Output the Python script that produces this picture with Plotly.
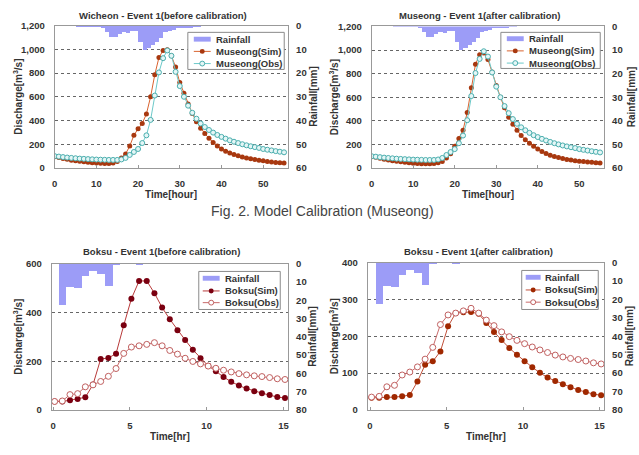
import plotly.graph_objects as go

W, H = 639, 455

# ---------------- DATA ----------------
hours_top = list(range(56))
museong_obs = [100, 96, 92, 88, 85, 82, 79, 77, 75, 73, 71, 70, 69, 68, 68, 68, 72, 85, 110, 135,
               160, 210, 275, 405, 610, 805, 925, 990, 945, 810, 690, 600, 525, 465, 415, 375,
               345, 320, 298, 278, 262, 247, 233, 221, 210, 200, 191, 183, 176, 169, 160, 154,
               148, 142, 137, 132]
sim_before = [95, 88, 80, 73, 66, 60, 56, 52, 48, 45, 42, 40, 38, 37, 42, 55, 85, 118, 185, 275,
              330, 375, 455, 600, 785, 930, 990, 995, 945, 850, 720, 630, 540, 460, 390, 335,
              290, 250, 215, 185, 160, 142, 127, 114, 103, 93, 85, 78, 71, 65, 60, 55,
              51, 47, 44, 41]
sim_after = [95, 90, 82, 75, 68, 62, 57, 52, 48, 45, 40, 38, 36, 35, 35, 37, 44, 55, 85, 120,
             185, 250, 320, 470, 680, 880, 960, 975, 920, 815, 700, 600, 510, 430, 370, 320,
             275, 240, 210, 185, 160, 140, 122, 108, 97, 88, 80, 73, 67, 62, 58, 54,
             51, 48, 45, 42]
rain_hour_start = list(range(35))
rain_top = [0, 0, 0, 0, 0, 0.3, 0.3, 0.2, 0.3, 0.2, 0.2, 0.5, 2.5, 4.8, 4.8, 3.5, 2.7, 3.0, 2.3, 2.3,
            6.8, 10.0, 9.2, 8.0, 6.6, 5.2, 2.7, 2.0, 1.5, 1.0, 1.0, 0.8, 0.5, 0.3, 0.2]

hours_bot = [0.1, 0.6, 1.1, 1.6, 2.1, 2.6, 3.1, 3.6, 4.1, 4.6, 5.1, 5.6, 6.1, 6.6, 7.1, 7.6,
             8.1, 8.6, 9.1, 9.6, 10.1, 10.6, 11.1, 11.6, 12.1, 12.6, 13.1, 13.6, 14.1, 14.6, 15.1]
boksu_obs = [35, 37, 63, 67, 95, 103, 117, 138, 170, 232, 258, 263, 269, 276, 263, 244, 229, 212,
             199, 189, 180, 171, 163, 156, 149, 144, 140, 137, 133, 128, 125]
boksu_sim_before = [35, 35, 40, 45, 52, 104, 209, 213, 231, 347, 456, 529, 529, 479, 420, 372, 327,
                    287, 247, 212, 181, 159, 135, 116, 100, 88, 77, 69, 61, 53, 49]
boksu_sim_after = [33, 33, 35, 35, 37, 41, 77, 123, 132, 159, 227, 263, 265, 266, 261, 236, 212,
                   190, 168, 150, 132, 116, 101, 88, 79, 70, 62, 54, 49, 43, 40]
rain_bot_start = [0.35, 0.85, 1.35, 1.85, 2.35, 2.85, 3.35, 3.85, 4.35, 4.85, 5.35]
rain_bot = [22.5, 12.3, 13.0, 6.3, 3.8, 5.5, 12.0, 0.5, 0.0, 0.0, 0.2]

titles = ["Wicheon - Event 1(before calibration)", "Museong - Event 1(after calibration)",
          "Boksu - Event 1(before calibration)", "Boksu - Event 1(after calibration)"]
caption = "Fig. 2. Model Calibration (Museong)"

# ---------------- STYLE / LAYOUT ----------------
FONT = "Liberation Sans"
RAIN_C = "#9c9cf7"
GRID_C = "#666666"
FRAME_C = "#999999"
TXT_C = "#333333"


def px(x):
    return x / W


def py(y):
    return 1 - y / H


# panel boxes in pixels
panels = [
    dict(l=52, r=287, t=20, b=166, xr=[0, 56], q=[0, 1200], qd=200, rr=60, xd=10, xt="Time[hour]",
         ty=10, dx=15, rx=313,
         leg=dict(l=186, r=283, t=27, b=65, s0=192, s1=209, tx=212, rows=[34, 46.5, 59])),
    dict(l=371, r=605, t=21, b=166, xr=[0, 56], q=[0, 1200], qd=200, rr=60, xd=10, xt="Time[hour]",
         ty=10, dx=333, rx=632,
         leg=dict(l=501, r=601, t=27, b=64, s0=507, s1=524, tx=527, rows=[33.5, 46, 58.5])),
    dict(l=49, r=287, t=264, b=414, xr=[-0.09, 15.31], q=[0, 600], qd=200, rr=80, xd=5, xt="Time[hr]",
         ty=252, dx=15, rx=312,
         leg=dict(l=197, r=279, t=272, b=311, s0=201, s1=218, tx=221, rows=[279, 292, 304])),
    dict(l=367, r=605, t=263, b=414, xr=[-0.15, 15.3], q=[0, 400], qd=100, rr=80, xd=5, xt="Time[hr]",
         ty=252, dx=333, rx=630,
         leg=dict(l=522, r=599, t=271, b=311, s0=526, s1=541, tx=543, rows=[278, 291, 303.5])),
]

series = [
    (rain_hour_start, rain_top, 1, hours_top, sim_before, museong_obs, "Museong"),
    (rain_hour_start, rain_top, 1, hours_top, sim_after, museong_obs, "Museong"),
    (rain_bot_start, rain_bot, 0.5, hours_bot, boksu_sim_before, boksu_obs, "Boksu"),
    (rain_bot_start, rain_bot, 0.5, hours_bot, boksu_sim_after, boksu_obs, "Boksu"),
]
sim_styles = [
    dict(line="#d9632f", mk="#a8380f"),
    dict(line="#d9632f", mk="#a8380f"),
    dict(line="#b83a3a", mk="#7a0010"),
    dict(line="#c0503a", mk="#a02800"),
]
obs_styles = [
    dict(line="#6cc9c9", mk="#4aaeae", fill="#e4f6f6"),
    dict(line="#6cc9c9", mk="#4aaeae", fill="#e4f6f6"),
    dict(line="#c86a6a", mk="#c06060", fill="#ffffff"),
    dict(line="#c86a6a", mk="#c06060", fill="#ffffff"),
]

tick_font = dict(family=FONT, size=9.5, color=TXT_C, weight="bold")
bold10 = dict(family=FONT, size=10, color=TXT_C, weight="bold")
leg_font = dict(family=FONT, size=9.5, color=TXT_C, weight="bold")
annotations = []
shapes = []

fig = go.Figure()

for i, (p, s) in enumerate(zip(panels, series)):
    n = i + 1
    xa = "xaxis" if n == 1 else f"xaxis{n}"
    xr_ = "x" if n == 1 else f"x{n}"
    ra = 2 * n - 1
    da = 2 * n
    ra_name = "yaxis" if ra == 1 else f"yaxis{ra}"
    ra_ref = "y" if ra == 1 else f"y{ra}"
    da_name = f"yaxis{da}"
    da_ref = f"y{da}"
    rt, rv, rw, tt, simv, obsv, site = s
    big = n <= 2
    msize = 5 if big else 6

    fig.add_trace(go.Bar(x=rt, y=rv, width=rw, offset=0, marker=dict(color=RAIN_C, line=dict(width=0)),
                         name="Rainfall", xaxis=xr_, yaxis=ra_ref, showlegend=False))
    fig.add_trace(go.Scatter(x=tt, y=simv, mode="lines+markers", name=f"{site}(Sim)",
                             line=dict(color=sim_styles[i]["line"], width=1),
                             marker=dict(color=sim_styles[i]["mk"], size=msize, symbol="circle"),
                             xaxis=xr_, yaxis=da_ref, showlegend=False))
    fig.add_trace(go.Scatter(x=tt, y=obsv, mode="lines+markers", name=f"{site}(Obs)",
                             line=dict(color=obs_styles[i]["line"], width=1),
                             marker=dict(color=obs_styles[i]["fill"], size=msize, symbol="circle",
                                         line=dict(color=obs_styles[i]["mk"], width=1)),
                             xaxis=xr_, yaxis=da_ref, showlegend=False))

    fig.layout[xa] = dict(domain=[px(p["l"]), px(p["r"])], range=p["xr"], anchor=ra_ref,
                          dtick=p["xd"], tick0=0, showgrid=False, zeroline=False,
                          showline=True, mirror=True, linecolor=FRAME_C, linewidth=1,
                          ticks="inside", ticklen=3, tickcolor=FRAME_C,
                          tickfont=tick_font, ticklabelstandoff=7)
    fig.layout[ra_name] = dict(domain=[py(p["b"]), py(p["t"])], range=[p["rr"], 0], anchor=xr_,
                               side="right", dtick=10, showgrid=False, zeroline=False,
                               showline=True, linecolor=FRAME_C, linewidth=1, ticks="",
                               tickfont=tick_font, ticklabelstandoff=5)
    fig.layout[da_name] = dict(overlaying=ra_ref, anchor=xr_, side="left", range=p["q"], dtick=p["qd"],
                               tickformat=",", showgrid=True, gridcolor=GRID_C, griddash="dot",
                               gridwidth=1, zeroline=False, showline=True, linecolor=FRAME_C,
                               linewidth=1, ticks="", tickfont=tick_font, ticklabelstandoff=7)

    cx = (p["l"] + p["r"]) / 2
    cy = (p["t"] + p["b"]) / 2
    annotations.append(dict(text=titles[i], x=px(cx - 8), y=py(p["ty"]), xref="paper", yref="paper",
                            xanchor="center", yanchor="middle", showarrow=False,
                            font=dict(family=FONT, size=9.5, color=TXT_C, weight="bold")))
    annotations.append(dict(text="Discharge[m<sup>3</sup>/s]", x=px(p["dx"]), y=py(cy), xref="paper",
                            yref="paper", xanchor="center", yanchor="middle", textangle=-90,
                            showarrow=False, font=bold10))
    annotations.append(dict(text="Rainfall[mm]", x=px(p["rx"]), y=py(cy), xref="paper",
                            yref="paper", xanchor="center", yanchor="middle", textangle=-90,
                            showarrow=False, font=bold10))
    annotations.append(dict(text=p["xt"], x=px(cx), y=py(p["b"] + 27), xref="paper", yref="paper",
                            xanchor="center", yanchor="middle", showarrow=False, font=bold10))

    # legend box (drawn with shapes + annotations so the row spacing matches)
    lgd = p["leg"]
    shapes.append(dict(type="rect", xref="paper", yref="paper", x0=px(lgd["l"]), x1=px(lgd["r"]),
                       y0=py(lgd["b"]), y1=py(lgd["t"]), fillcolor="white",
                       line=dict(color="#8a8a8a", width=1), layer="above"))
    r0, r1, r2 = lgd["rows"]
    s0, s1 = lgd["s0"], lgd["s1"]
    sm = (s0 + s1) / 2
    shapes.append(dict(type="rect", xref="paper", yref="paper", x0=px(s0), x1=px(s1),
                       y0=py(r0 + 2.5), y1=py(r0 - 2.5), fillcolor=RAIN_C, line=dict(width=0),
                       layer="above"))
    shapes.append(dict(type="line", xref="paper", yref="paper", x0=px(s0), x1=px(s1),
                       y0=py(r1), y1=py(r1), line=dict(color=sim_styles[i]["line"], width=1),
                       layer="above"))
    shapes.append(dict(type="circle", xref="paper", yref="paper", x0=px(sm - 2.5), x1=px(sm + 2.5),
                       y0=py(r1 + 2.5), y1=py(r1 - 2.5), fillcolor=sim_styles[i]["mk"],
                       line=dict(width=0), layer="above"))
    shapes.append(dict(type="line", xref="paper", yref="paper", x0=px(s0), x1=px(s1),
                       y0=py(r2), y1=py(r2), line=dict(color=obs_styles[i]["line"], width=1),
                       layer="above"))
    shapes.append(dict(type="circle", xref="paper", yref="paper", x0=px(sm - 2.5), x1=px(sm + 2.5),
                       y0=py(r2 + 2.5), y1=py(r2 - 2.5), fillcolor=obs_styles[i]["fill"],
                       line=dict(color=obs_styles[i]["mk"], width=1), layer="above"))
    for txt, ry in zip(["Rainfall", f"{site}(Sim)", f"{site}(Obs)"], lgd["rows"]):
        annotations.append(dict(text=txt, x=px(lgd["tx"]), y=py(ry), xref="paper", yref="paper",
                                xanchor="left", yanchor="middle", showarrow=False, font=leg_font))

annotations.append(dict(text=caption, x=px(322), y=py(210), xref="paper", yref="paper", showarrow=False,
                        xanchor="center", yanchor="middle",
                        font=dict(family=FONT, size=14, color="#444444")))

fig.update_layout(width=W, height=H, margin=dict(l=0, r=0, t=0, b=0), autosize=False,
                  paper_bgcolor="white", plot_bgcolor="white", showlegend=False,
                  bargap=0, annotations=annotations, shapes=shapes)

fig.write_html("out.html")
